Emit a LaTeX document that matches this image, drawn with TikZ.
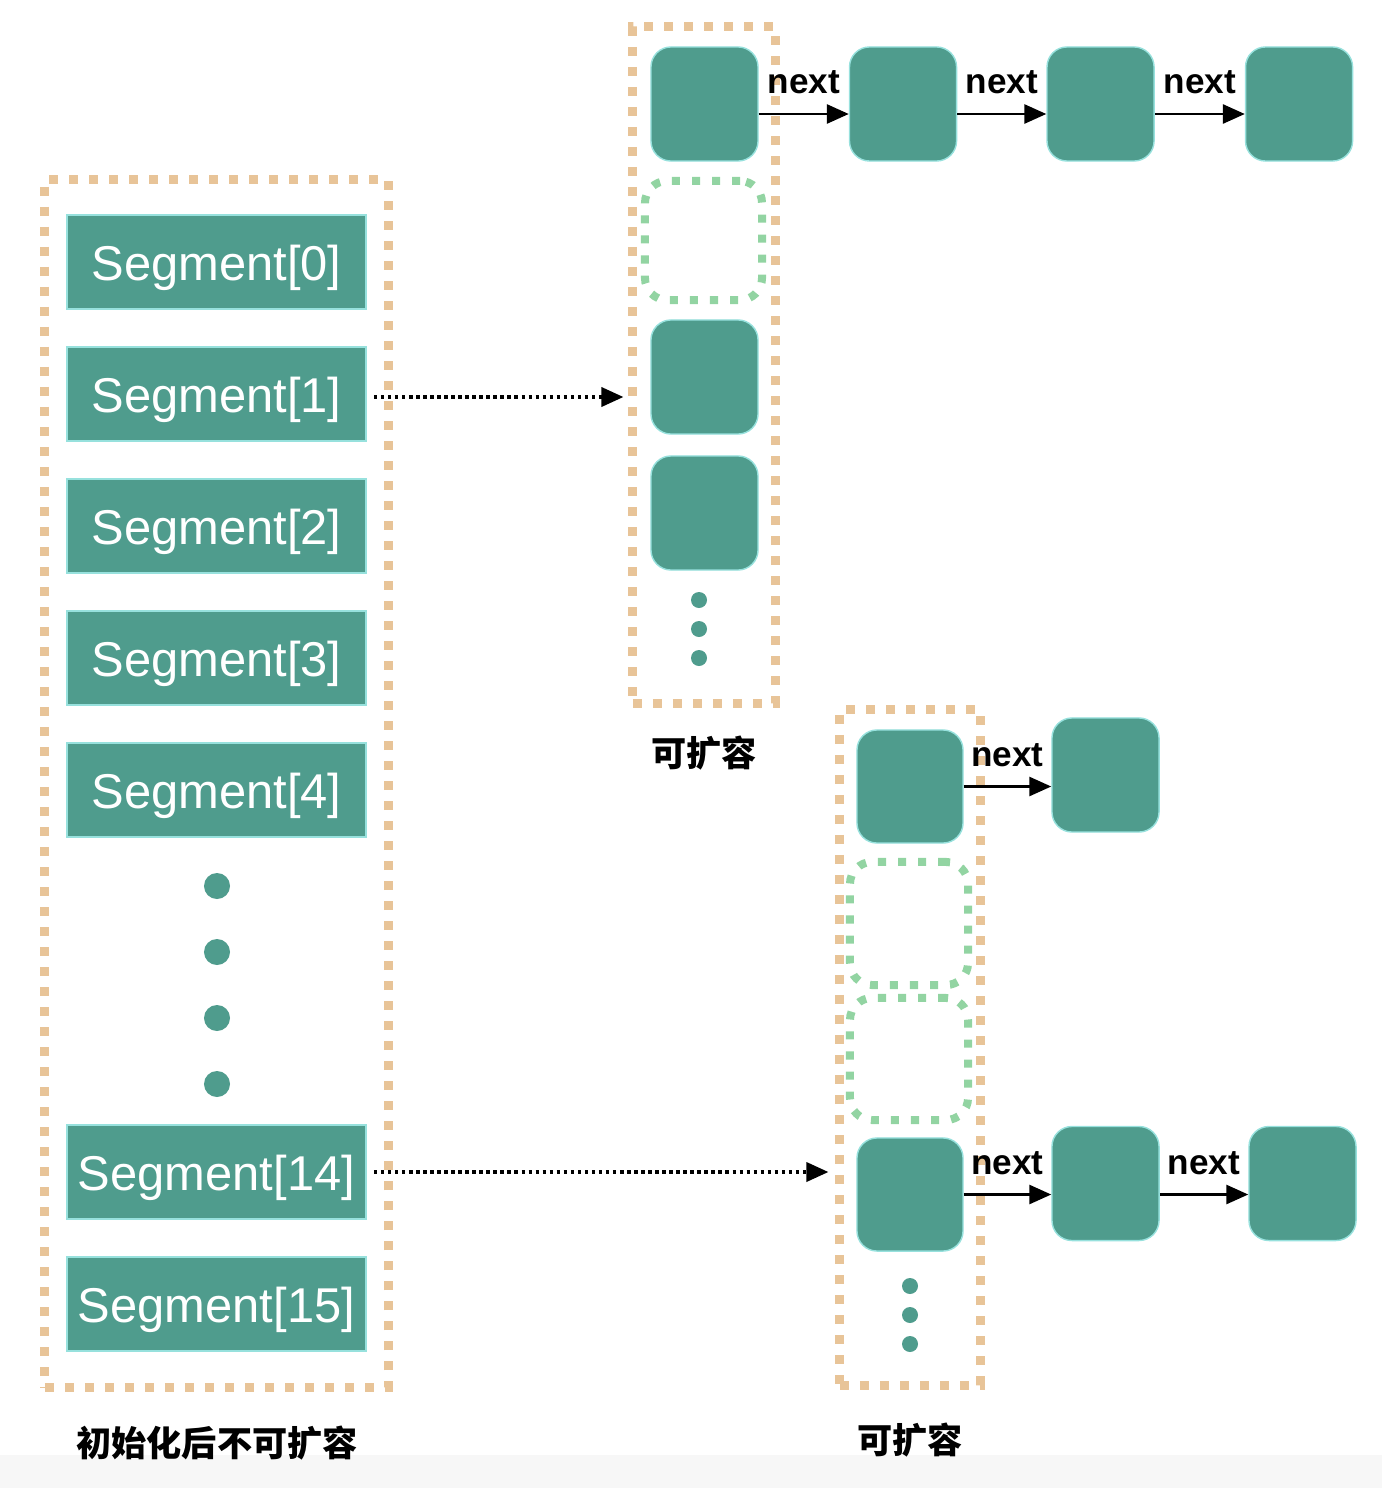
\documentclass[tikz,border=0pt]{standalone}
\usepackage{fontspec}
\setmainfont{Liberation Sans}
\newfontfamily\cjk{Noto Sans CJK SC}
\usetikzlibrary{positioning,arrows.meta}

\definecolor{segteal}{RGB}{79,156,141}
\definecolor{binorange}{RGB}{232,196,152}
\definecolor{slotgreen}{RGB}{146,212,162}

\begin{document}
\begin{tikzpicture}[x=0.01cm, y=-0.01cm]
    \tikzset{segbox/.style={
        fill=segteal, draw=segteal!60!cyan!50, line width=0.4pt, minimum width=2.99cm, minimum height=0.94cm,
        inner sep=0pt, text=white, font=\fontsize{13.9}{16}\selectfont, text height=13.5pt, text depth=2.9pt
      },
      entry/.style={fill=segteal, draw=segteal!60!cyan!50, line width=0.4pt, rounded corners=0.2cm,
        minimum width=1.07cm, minimum height=1.14cm, inner sep=0pt},
      freeslot/.style={draw=slotgreen, line width=0.08cm, dash pattern=on 0.08cm off 0.12cm,
        rounded corners=0.22cm, minimum width=1.12cm, minimum height=1.14cm, inner sep=0pt},
      bucket/.style={draw=binorange, line width=0.09cm, dash pattern=on 0.09cm off 0.11cm, inner sep=0pt},
      vdot/.style={circle, fill=segteal, inner sep=0pt, minimum size=#1},
      link/.style={-{Triangle[length=0.22cm, width=0.19cm]}, line width=0.8pt},
      ref/.style={link, line width=1pt, dash pattern=on 1pt off 1pt},
      nextlabel/.style={midway, above=2pt, font=\bfseries\fontsize{10}{12}\selectfont},
      caption/.style={font=\cjk\bfseries\fontsize{10}{12}\selectfont}
    }

    \useasboundingbox (0,0) rectangle (1382,1488);
    \fill[gray!6] (0,1455) rectangle (1382,1488);

    % segment table
    \node[bucket, minimum width=3.43cm, minimum height=12.07cm] (segtable) at (216.5,783.5) {};
    \foreach \i/\y in {0/262,1/394,2/526,3/658,4/790,14/1172,15/1304}
      \node[segbox] (seg\i) at (216.5,\y) {Segment[\i]};
    \foreach \y in {886,952,1018,1084}
      \node[vdot=0.26cm] (gap\y) at (217,\y) {};
    \node[caption] (fixedcap) at (217,1443) {初始化后不可扩容};

    % table of segment 1
    \node[bucket, minimum width=1.42cm, minimum height=6.76cm] (topbin) at (704,365) {};
    \node[entry] (a0) at (704.5,104) {};
    \node[freeslot, minimum width=1.17cm, minimum height=1.19cm] (a1) at (703.5,240.5) {};
    \node[entry] (a2) at (704.5,377) {};
    \node[entry] (a3) at (704.5,513) {};
    \foreach \y in {600,629,658}
      \node[vdot=0.16cm] (adot\y) at (699,\y) {};
    \node[caption] (topcap) at (704,753) {可扩容};

    \node[entry] (n1) [right=0.9cm of a0] {};
    \node[entry] (n2) [right=0.89cm of n1] {};
    \node[entry] (n3) [right=0.9cm of n2] {};

    % table of segment 14
    \node[bucket, minimum width=1.40cm, minimum height=6.75cm] (lowbin) at (910,1047.5) {};
    \node[entry, minimum width=1.06cm, minimum height=1.13cm] (b0) at (910,786.5) {};
    \node[freeslot, minimum width=1.18cm, minimum height=1.23cm] (b1) at (909,923.5) {};
    \node[freeslot, minimum width=1.18cm, minimum height=1.22cm] (b2) at (909,1059) {};
    \node[entry, minimum width=1.06cm, minimum height=1.13cm] (b3) at (910,1194.5) {};
    \foreach \y in {1286,1315,1344}
      \node[vdot=0.16cm] (bdot\y) at (910,\y) {};
    \node[caption] (lowcap) at (910,1440) {可扩容};

    \node[entry] (c1) at (1105.5,775) {};
    \node[entry] (d1) at (1105.5,1183.5) {};
    \node[entry] (d2) at (1302.5,1183.5) {};

    \draw[link] ([yshift=-0.1cm]a0.east) -- ([yshift=-0.1cm]n1.west) node[nextlabel] {next};
    \draw[link] ([yshift=-0.1cm]n1.east) -- ([yshift=-0.1cm]n2.west) node[nextlabel] {next};
    \draw[link] ([yshift=-0.1cm]n2.east) -- ([yshift=-0.1cm]n3.west) node[nextlabel] {next};

    \draw[link] (b0.east) -- (b0.east -| c1.west) node[nextlabel] {next};
    \draw[link] (b3.east) -- (b3.east -| d1.west) node[nextlabel] {next};
    \draw[link] (d1.east |- b3.east) -- (d2.west |- b3.east) node[nextlabel] {next};

    \draw[ref, shorten <=2pt, shorten >=0.05cm] ([yshift=-0.03cm]seg1.east) -- ([yshift=-0.03cm]seg1.east -| topbin.west);
    \draw[ref, shorten <=2pt, shorten >=0.07cm] (seg14.east) -- (seg14.east -| lowbin.west);
  \end{tikzpicture}
\end{document}
